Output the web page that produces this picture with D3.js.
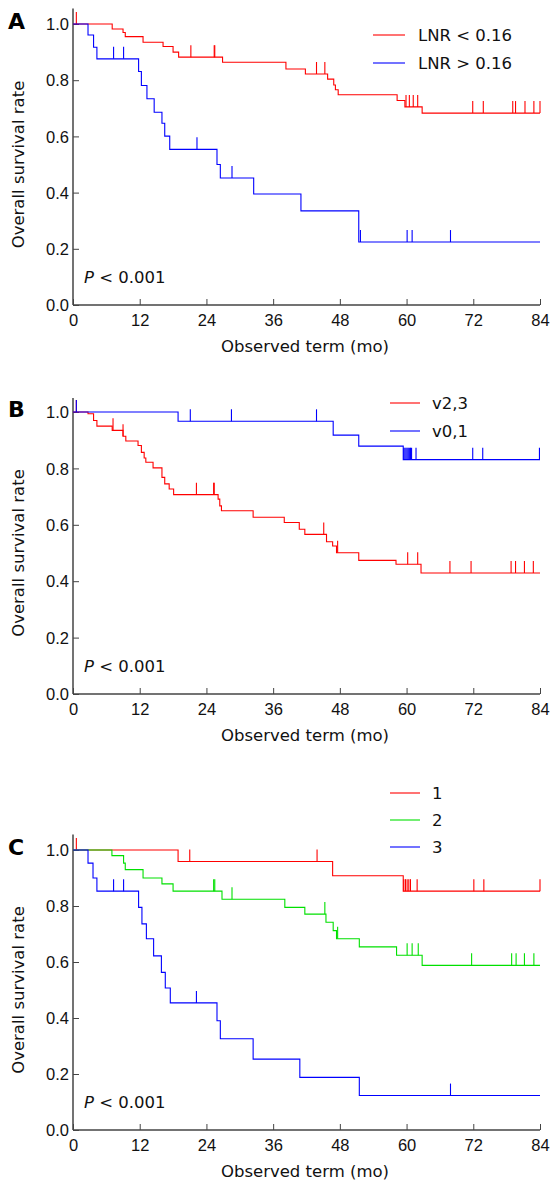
<!DOCTYPE html>
<html>
<head>
<meta charset="utf-8">
<style>
  body { margin: 0; background: #fff; }
  svg { display: block; font-family: 'DejaVu Sans', Verdana, sans-serif; }
</style>
</head>
<body>
<svg width="557" height="1183"></svg>
<script src="https://d3js.org/d3.v7.min.js"></script>
<script>
// steps: [month, survival after drop]; censor: months
const aRedSteps = [[7.05,0.982],[9.0,0.97],[9.4,0.955],[12.6,0.935],[16.2,0.92],[18,0.90],[19,0.882],[26.9,0.864],[38.3,0.84],[41.8,0.822],[45.8,0.804],[46.9,0.783],[47.2,0.766],[47.7,0.748],[58.3,0.728],[59.7,0.705],[62.8,0.683]];
const aRedCens = [0.6,21.2,25.4,25.5,43.8,45.3,59.9,60.5,61.2,62,71.9,73.8,79.1,79.6,81.3,82.9,84];
const aBlueSteps = [[2.7,0.961],[3.7,0.917],[4.3,0.876],[11.8,0.831],[12.3,0.781],[13.3,0.734],[14.6,0.686],[16.0,0.647],[16.5,0.601],[17.4,0.554],[25.9,0.50],[26.5,0.452],[32.5,0.395],[41.0,0.335],[51.4,0.224]];
const aBlueCens = [7.3,9.1,22.3,28.6,51.7,60.1,61,67.9];

const bBlueSteps = [[18.9,0.967],[46.8,0.918],[51.4,0.879],[59.4,0.831]];
const bBlueCens = [0.6,21.1,28.5,43.8,59.5,59.7,59.9,60.1,60.3,60.5,60.7,60.9,61.7,71.9,73.7,83.9];
const bRedSteps = [[2.7,0.994],[3.7,0.97],[4.3,0.95],[7.05,0.935],[9.0,0.914],[9.5,0.897],[11.7,0.881],[12.3,0.857],[12.8,0.837],[13.1,0.822],[14.4,0.802],[16.0,0.768],[16.5,0.745],[17.3,0.727],[18.1,0.707],[26.1,0.691],[26.4,0.667],[26.7,0.65],[32.4,0.627],[38,0.608],[40.7,0.584],[41.7,0.566],[45.6,0.54],[46.7,0.525],[47.4,0.501],[51.4,0.474],[58.1,0.46],[62.6,0.429]];
const bRedCens = [0.6,7.2,9,22.2,25.3,25.4,45.1,47.6,60.2,62,67.8,71.6,78.8,79.6,81.2,82.8];

const cRedSteps = [[18.9,0.959],[46.7,0.908],[59.4,0.853]];
const cRedCens = [0.6,21,43.9,59.5,59.8,60.1,60.4,60.7,61.9,72.1,73.9,84];
const cGreenSteps = [[7,0.98],[9.1,0.953],[9.4,0.93],[12.6,0.90],[16,0.879],[18,0.853],[26.8,0.824],[38.1,0.795],[41.7,0.771],[45.5,0.742],[46.8,0.712],[47.4,0.683],[51.5,0.654],[58.2,0.624],[62.8,0.588]];
const cGreenCens = [25.3,25.5,28.6,45.3,47.6,60.1,61,62.1,71.7,78.9,79.7,81.2,82.9];
const cBlueSteps = [[2.7,0.953],[3.6,0.90],[4.3,0.853],[11.8,0.795],[12.4,0.736],[13.2,0.683],[14.5,0.622],[15.9,0.563],[16.6,0.507],[17.5,0.454],[25.9,0.39],[26.5,0.326],[32.4,0.253],[40.8,0.188],[51.5,0.123]];
const cBlueCens = [7.3,9.1,22.2,67.9];

const xTicks = [0,12,24,36,48,60,72,84];
const yTicks = [0,0.2,0.4,0.6,0.8,1.0];

const RED = "#ff0000", BLUE = "#0000ff", GREEN = "#00e000";
const FS = 16.5;
const svg = d3.select("svg");

const panels = [
  { letter: "A", top: 24, bottom: 305, axisTop: 1.055, letterY: 29,
    series: [
      { name: "LNR < 0.16", color: RED, steps: aRedSteps, cens: aRedCens },
      { name: "LNR > 0.16", color: BLUE, steps: aBlueSteps, cens: aBlueCens }],
    legend: { x1: 373, x2: 405, tx: 418, ys: [35, 63] } },
  { letter: "B", top: 412, bottom: 694, axisTop: 1.05, letterY: 417,
    series: [
      { name: "v2,3", color: RED, steps: bRedSteps, cens: bRedCens },
      { name: "v0,1", color: BLUE, steps: bBlueSteps, cens: bBlueCens }],
    legend: { x1: 390, x2: 420, tx: 432, ys: [403, 431] } },
  { letter: "C", top: 850, bottom: 1130, axisTop: 1.055, letterY: 855,
    series: [
      { name: "1", color: RED, steps: cRedSteps, cens: cRedCens },
      { name: "2", color: GREEN, steps: cGreenSteps, cens: cGreenCens },
      { name: "3", color: BLUE, steps: cBlueSteps, cens: cBlueCens }],
    legend: { x1: 390, x2: 420, tx: 432, ys: [793, 820, 847] } }
];

panels.forEach(p => {
  const x = d3.scaleLinear().domain([0, 84]).range([73, 540]);
  const y = d3.scaleLinear().domain([0, 1]).range([p.bottom, p.top]);
  const g = svg.append("g");

  // axes
  const xa = g.append("g").attr("transform", `translate(0,${p.bottom})`)
    .call(d3.axisBottom(x).tickValues(xTicks).tickSize(-6).tickPadding(9).tickFormat(d3.format("d")));
  const ya = g.append("g").attr("transform", `translate(${x(0)},0)`)
    .call(d3.axisLeft(y).tickValues(yTicks).tickSize(-6).tickPadding(4).tickFormat(d3.format(".1f")));
  [xa, ya].forEach(a => {
    a.select(".domain").remove();
    a.selectAll("line").attr("stroke", "#444");
    a.selectAll("text").attr("font-size", FS).attr("fill", "#111");
  });
  ya.selectAll("text").attr("dy", "0.35em");
  g.append("line").attr("x1", x(0)).attr("x2", x(84)).attr("y1", p.bottom).attr("y2", p.bottom).attr("stroke", "#444").attr("stroke-width", 1.5);
  g.append("line").attr("x1", x(0)).attr("x2", x(0)).attr("y1", p.bottom).attr("y2", y(p.axisTop)).attr("stroke", "#444").attr("stroke-width", 1.5);

  g.append("text").attr("x", 305).attr("y", p.bottom + 47).attr("text-anchor", "middle")
    .attr("font-size", FS).attr("fill", "#111").text("Observed term (mo)");
  g.append("text").attr("transform", `translate(24,${(p.top + p.bottom) / 2}) rotate(-90)`)
    .attr("text-anchor", "middle").attr("font-size", FS).attr("fill", "#111").text("Overall survival rate");
  g.append("text").attr("x", 8).attr("y", p.letterY).attr("font-size", 22).attr("font-weight", "bold").text(p.letter);
  const pt = g.append("text").attr("x", 84).attr("y", p.bottom - 22).attr("font-size", FS).attr("fill", "#111");
  pt.append("tspan").attr("font-style", "italic").text("P");
  pt.append("tspan").text(" < 0.001");

  p.series.forEach((s, i) => {
    const pts = [[0, 1]].concat(s.steps).concat([[84, s.steps[s.steps.length - 1][1]]]);
    const line = d3.line().x(d => x(d[0])).y(d => y(d[1])).curve(d3.curveStepAfter);
    g.append("path").attr("d", line(pts)).attr("fill", "none").attr("stroke", s.color).attr("stroke-width", 1.1);
    const surv = t => { let v = 1; s.steps.forEach(d => { if (d[0] <= t) v = d[1]; }); return v; };
    g.selectAll(null).data(s.cens).join("line")
      .attr("x1", d => x(d)).attr("x2", d => x(d))
      .attr("y1", d => y(surv(d))).attr("y2", d => y(surv(d)) - 12)
      .attr("stroke", s.color).attr("stroke-width", 1.1);
    g.append("line").attr("x1", p.legend.x1).attr("x2", p.legend.x2)
      .attr("y1", p.legend.ys[i]).attr("y2", p.legend.ys[i]).attr("stroke", s.color).attr("stroke-width", 1.1);
    g.append("text").attr("x", p.legend.tx).attr("y", p.legend.ys[i]).attr("dy", "0.35em")
      .attr("font-size", FS).attr("fill", "#111").text(s.name);
  });
});
</script>
</body>
</html>
